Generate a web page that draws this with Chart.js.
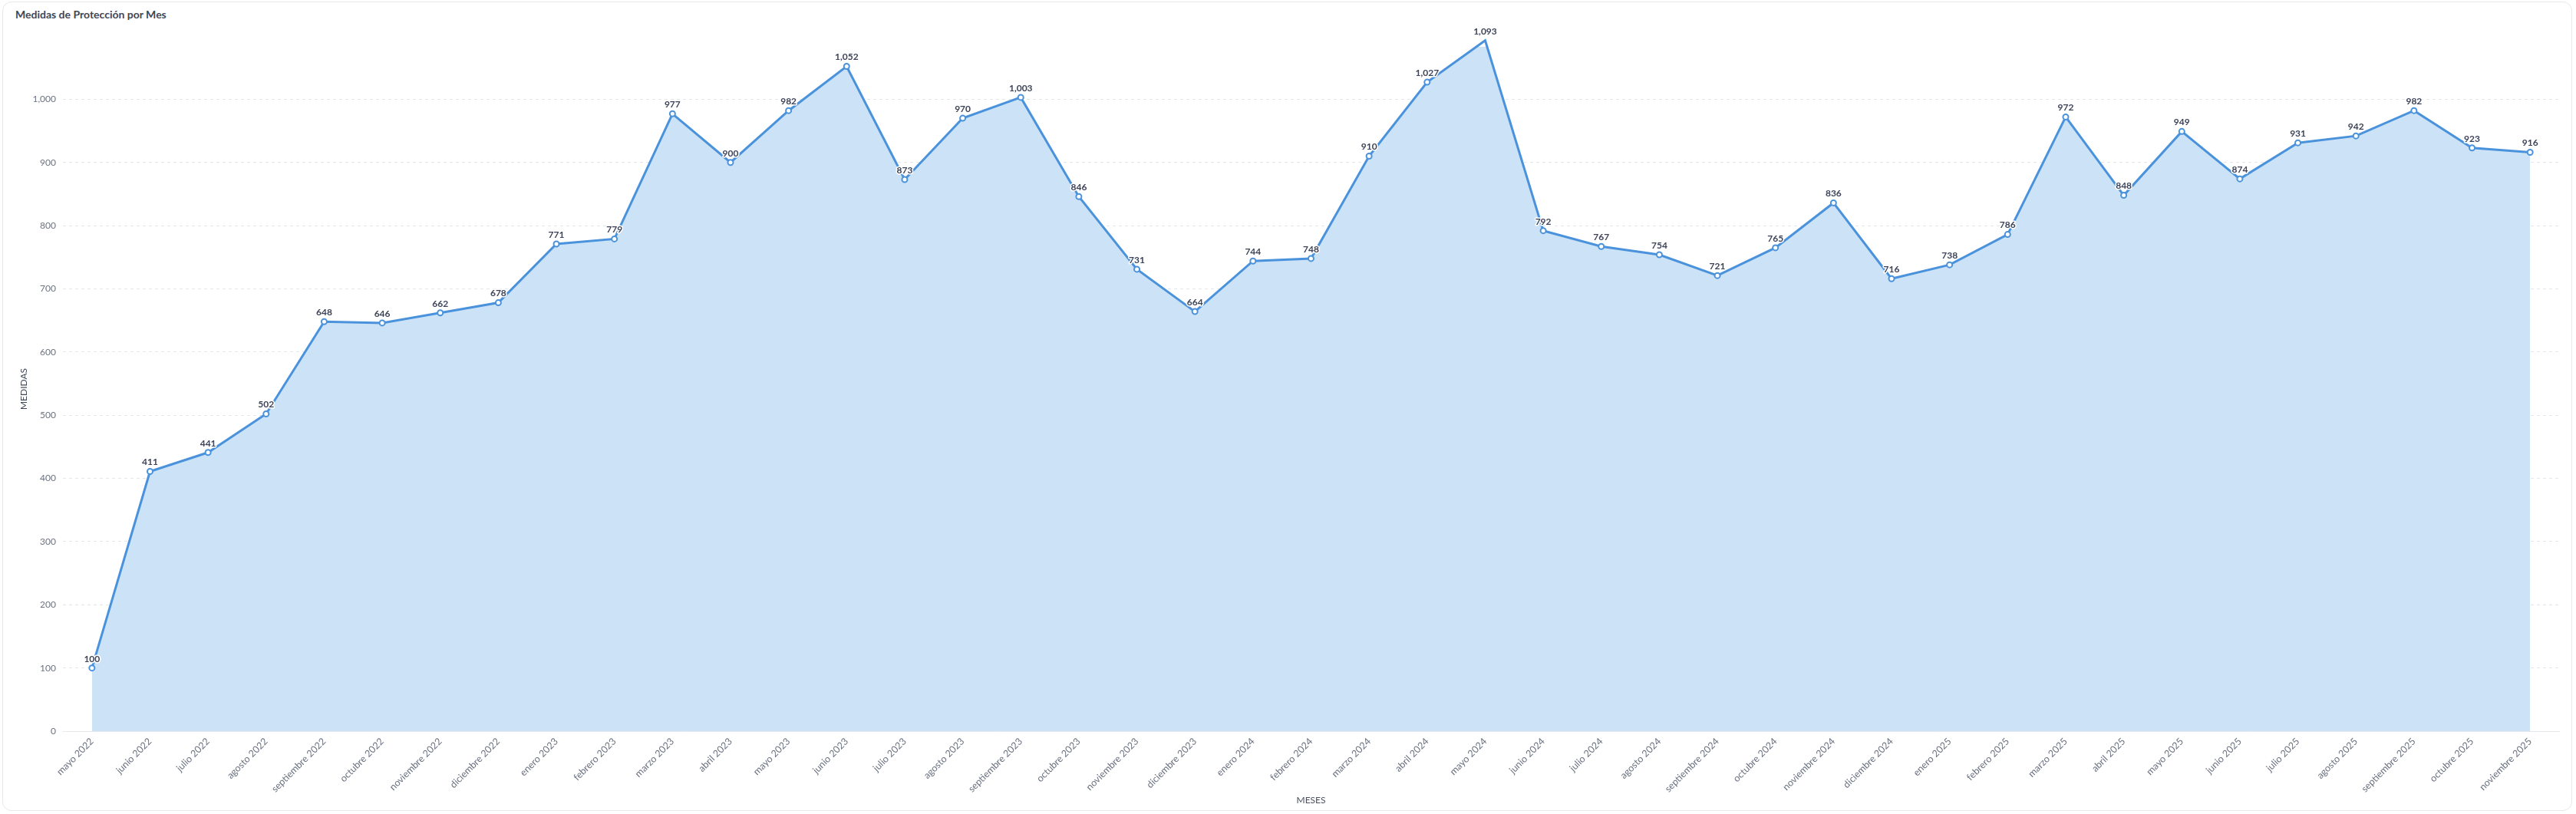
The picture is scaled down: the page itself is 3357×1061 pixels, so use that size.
<!DOCTYPE html>
<html>
<head>
<meta charset="utf-8">
<script src="https://cdn.jsdelivr.net/npm/chart.js@4.4.1/dist/chart.umd.min.js"></script>
<style>
  html, body { margin: 0; padding: 0; background: #ffffff; }
  body { width: 3357px; height: 1061px; position: relative; overflow: hidden; font-family: Lato, sans-serif; }
  #card { position: absolute; left: 3px; top: 2px; width: 3349px; height: 1055px; border: 1px solid #e6e8ec; border-radius: 12px; box-sizing: border-box; }
  #title { position: absolute; left: 20px; top: 10px; font: 700 14px Lato, sans-serif; color: #3f4656; white-space: nowrap; }
  #wrap { position: absolute; left: 0; top: 0; width: 3357px; height: 1061px; }
</style>
</head>
<body>
<div id="card"></div>
<div id="title">Medidas de Protección por Mes</div>
<div id="wrap"><canvas id="c"></canvas></div>
<script>
const months = [
  "mayo 2022","junio 2022","julio 2022","agosto 2022","septiembre 2022","octubre 2022","noviembre 2022","diciembre 2022",
  "enero 2023","febrero 2023","marzo 2023","abril 2023","mayo 2023","junio 2023","julio 2023","agosto 2023","septiembre 2023","octubre 2023","noviembre 2023","diciembre 2023",
  "enero 2024","febrero 2024","marzo 2024","abril 2024","mayo 2024","junio 2024","julio 2024","agosto 2024","septiembre 2024","octubre 2024","noviembre 2024","diciembre 2024",
  "enero 2025","febrero 2025","marzo 2025","abril 2025","mayo 2025","junio 2025","julio 2025","agosto 2025","septiembre 2025","octubre 2025","noviembre 2025"
];
const medidas = [
  100, 411, 441, 502, 648, 646, 662, 678,
  771, 779, 977, 900, 982, 1052, 873, 970, 1003, 846, 731, 664,
  744, 748, 910, 1027, 1093, 792, 767, 754, 721, 765, 836, 716,
  738, 786, 972, 848, 949, 874, 931, 942, 982, 923, 916
];
const yTickValues = [0, 100, 200, 300, 400, 500, 600, 700, 800, 900, 1000];
const yTitle = "MEDIDAS";
const xTitle = "MESES";

const fmt = v => v.toLocaleString('en-US');

const valueLabels = {
  id: 'valueLabels',
  afterDatasetsDraw(chart) {
    const ctx = chart.ctx;
    const meta = chart.getDatasetMeta(0);
    ctx.save();
    ctx.font = '700 12px Lato, sans-serif';
    ctx.textAlign = 'center';
    ctx.textBaseline = 'middle';
    ctx.lineJoin = 'round';
    meta.data.forEach((pt, i) => {
      const txt = fmt(chart.data.datasets[0].data[i]);
      const x = pt.x, y = pt.y - 12;
      ctx.lineWidth = 3;
      ctx.strokeStyle = '#ffffff';
      ctx.strokeText(txt, x, y);
      ctx.fillStyle = '#3d4459';
      ctx.fillText(txt, x, y);
    });
    ctx.restore();
  }
};

Chart.defaults.font.family = 'Lato, sans-serif';

new Chart(document.getElementById('c'), {
  type: 'line',
  data: {
    labels: months,
    datasets: [{
      data: medidas,
      borderColor: '#4a93dc',
      backgroundColor: '#cce2f6',
      borderWidth: 3,
      fill: 'origin',
      tension: 0,
      clip: false,
      pointRadius: 3.5,
      pointBorderWidth: 2,
      pointBackgroundColor: '#ffffff',
      pointBorderColor: '#4a93dc'
    }]
  },
  options: {
    responsive: true,
    maintainAspectRatio: false,
    animation: false,
    layout: { padding: { left: 0, top: 61, right: 22, bottom: 0 } },
    plugins: { legend: { display: false }, tooltip: { enabled: false } },
    scales: {
      x: {
        type: 'category',
        offset: true,
        afterFit(scale) { scale.height = 108; },
        grid: { display: false, drawTicks: false },
        border: { display: true, color: '#e5e7eb', width: 1 },
        ticks: {
          autoSkip: false,
          minRotation: 45,
          maxRotation: 45,
          padding: 6,
          color: '#6b7280',
          font: { size: 12.5 }
        },
        title: {
          display: true,
          text: xTitle,
          color: '#4a5163',
          font: { size: 12 },
          padding: { top: 0, bottom: 11 }
        }
      },
      y: {
        min: 0,
        max: 1083,
        afterFit(scale) { scale.width = 82; },
        afterBuildTicks(scale) {
          scale.ticks = yTickValues.map(v => ({ value: v }));
        },
        grid: { color: '#e3e6ea', drawTicks: false, lineWidth: 1 },
        border: { display: false, dash: [4, 4] },
        ticks: {
          padding: 9,
          color: '#6b7280',
          font: { size: 12 },
          callback: v => fmt(v)
        },
        title: {
          display: true,
          text: yTitle,
          color: '#3f4656',
          font: { size: 12 },
          padding: { top: 24, bottom: 0 }
        }
      }
    }
  },
  plugins: [valueLabels]
});
</script>
</body>
</html>
